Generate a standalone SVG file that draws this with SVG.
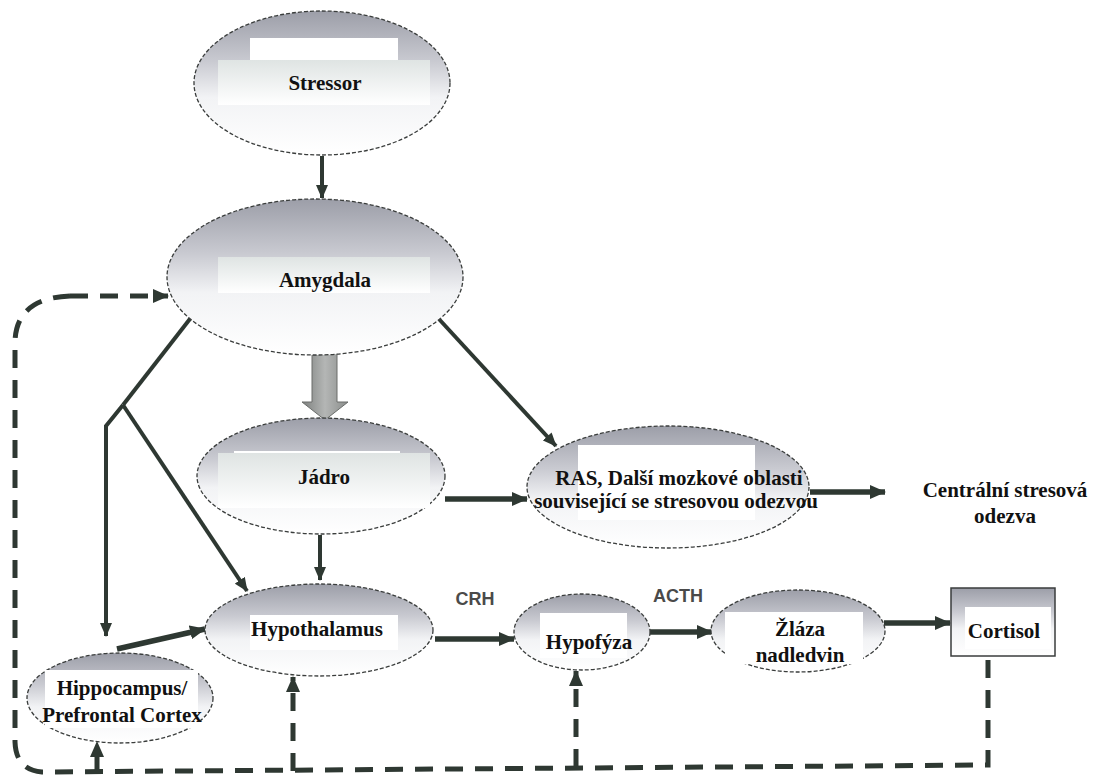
<svg xmlns="http://www.w3.org/2000/svg" width="1093" height="784" viewBox="0 0 1093 784">
  <defs>
    <linearGradient id="nodeFill" x1="0" y1="0" x2="0" y2="1">
      <stop offset="0" stop-color="#9c9ea8"/>
      <stop offset="0.35" stop-color="#c9cad1"/>
      <stop offset="0.6" stop-color="#f2f3f5"/>
      <stop offset="1" stop-color="#ffffff"/>
    </linearGradient>
    <linearGradient id="labelFill" x1="0" y1="0" x2="0" y2="1">
      <stop offset="0" stop-color="#dfe4e3"/>
      <stop offset="1" stop-color="#ffffff"/>
    </linearGradient>
    <linearGradient id="blockFill" x1="0" y1="0" x2="1" y2="0">
      <stop offset="0" stop-color="#7d807e"/>
      <stop offset="0.5" stop-color="#b4b6b5"/>
      <stop offset="1" stop-color="#8a8d8b"/>
    </linearGradient>
    <marker id="head" viewBox="0 0 14 12" refX="13" refY="6" markerWidth="14" markerHeight="12" markerUnits="userSpaceOnUse" orient="auto">
      <path d="M0,0 L14,6 L0,12 Z" fill="#2e3832"/>
    </marker>
    <marker id="headBig" viewBox="0 0 16 14" refX="15" refY="7" markerWidth="16" markerHeight="14" markerUnits="userSpaceOnUse" orient="auto">
      <path d="M0,0 L16,7 L0,14 Z" fill="#2e3832"/>
    </marker>
  </defs>
  <style>
    .node { fill: url(#nodeFill); stroke: #3a3d3c; stroke-width: 1.3; stroke-dasharray: 4 2; }
    .box { fill: url(#nodeFill); stroke: #3a3d3c; stroke-width: 1.5; }
    .lbl { fill: url(#labelFill); }
    .white { fill: #ffffff; }
    .t { font-family: "Liberation Serif", "Times New Roman", serif; font-weight: bold; font-size: 21px; fill: #111111; text-anchor: middle; }
    .h { font-family: "Liberation Sans", Arial, sans-serif; font-weight: bold; font-size: 18px; fill: #4a4a4a; text-anchor: middle; }
    .ln { fill: none; stroke: #2e3832; stroke-width: 4; marker-end: url(#head); }
    .thick { fill: none; stroke: #2e3832; stroke-width: 5.5; marker-end: url(#headBig); }
    .plain { fill: none; stroke: #2e3832; stroke-width: 4; stroke-linejoin: round; }
    .dash { fill: none; stroke: #2e3832; stroke-width: 5; stroke-dasharray: 18 12; }
    .dashArrow { fill: none; stroke: #2e3832; stroke-width: 5; stroke-dasharray: 18 12; marker-end: url(#headBig); }
  </style>

  <rect width="1093" height="784" fill="#ffffff"/>

  <!-- connectors -->
  <g id="connectors">
    <!-- stressor to amygdala -->
    <path class="ln" d="M322,156 V198"/>
    <!-- amygdala to nucleus: block arrow -->
    <path d="M312,351 H337 V402 H348 L325,420 L302,402 H312 Z" fill="url(#blockFill)" stroke="#6a6d6b" stroke-width="1"/>
    <!-- amygdala to RAS -->
    <path class="ln" d="M438,318 L556,446"/>
    <!-- amygdala to left branch -->
    <path class="plain" d="M193,315 L123,405"/>
    <path class="ln" d="M123,405 L106,426 V636"/>
    <path class="ln" d="M123,405 L247,591"/>
    <!-- nucleus to hypothalamus -->
    <path class="ln" d="M320,535 V580"/>
    <!-- nucleus to RAS -->
    <path class="thick" d="M445,499 H527"/>
    <!-- RAS to central response -->
    <path class="thick" d="M810,492 H885"/>
    <!-- hippocampus to hypothalamus -->
    <path class="thick" d="M117,649 L205,629"/>
    <!-- HPA axis -->
    <path class="thick" d="M435,639 H514"/>
    <path class="thick" d="M650,632 H712"/>
    <path class="thick" d="M884,623 H950"/>
    <!-- cortisol feedback loop -->
    <path class="dash" d="M988,660 V765 L42,772 Q16,770 15,742 V342 Q16,298 70,296"/>
    <path class="dashArrow" d="M70,296 H168"/>
    <path class="dashArrow" d="M97,772 V742"/>
    <path class="dashArrow" d="M293,771 V677"/>
    <path class="dashArrow" d="M576,767 V671"/>
  </g>

  <g id="stressor">
    <ellipse class="node" cx="322" cy="83" rx="128" ry="72"/>
    <rect class="white" x="250" y="38" width="148" height="22"/>
    <rect class="lbl" x="218" y="60" width="212" height="45"/>
    <text class="t" x="325" y="90">Stressor</text>
  </g>

  <g id="amygdala">
    <ellipse class="node" cx="315" cy="277" rx="148" ry="78"/>
    <rect class="lbl" x="218" y="257" width="212" height="36"/>
    <text class="t" x="325" y="287">Amygdala</text>
  </g>

  <g id="jadro">
    <ellipse class="node" cx="321" cy="476" rx="124" ry="58"/>
    <rect class="white" x="234" y="451" width="166" height="2"/>
    <rect class="lbl" x="218" y="453" width="212" height="55"/>
    <text class="t" x="324" y="484">Jádro</text>
  </g>

  <g id="ras">
    <ellipse class="node" cx="668" cy="487" rx="141" ry="61"/>
    <rect class="white" x="578" y="445" width="177" height="75"/>
    <text class="t" x="679" y="485">RAS, Další mozkové oblasti</text>
    <text class="t" x="676" y="508">související se stresovou odezvou</text>
  </g>

  <g id="central">
    <text class="t" x="1005" y="497">Centrální stresová</text>
    <text class="t" x="1005" y="523">odezva</text>
  </g>

  <g id="hypothalamus">
    <ellipse class="node" cx="319" cy="630" rx="114" ry="46"/>
    <rect class="white" x="250" y="615" width="148" height="35"/>
    <text class="t" x="317" y="636">Hypothalamus</text>
  </g>

  <g id="hippocampus">
    <ellipse class="node" cx="120" cy="698" rx="93" ry="45"/>
    <rect class="white" x="45" y="670" width="153" height="58"/>
    <text class="t" x="122" y="695">Hippocampus/</text>
    <text class="t" x="122" y="722">Prefrontal Cortex</text>
  </g>

  <g id="hypofyza">
    <ellipse class="node" cx="582" cy="632" rx="68" ry="38"/>
    <rect class="white" x="540" y="613" width="87" height="45"/>
    <text class="t" x="589" y="649">Hypofýza</text>
  </g>

  <g id="zlaza">
    <ellipse class="node" cx="798" cy="631" rx="87" ry="41"/>
    <rect class="white" x="725" y="612" width="138" height="52"/>
    <text class="t" x="800" y="636">Žláza</text>
    <text class="t" x="800" y="662">nadledvin</text>
  </g>

  <g id="cortisol">
    <rect class="box" x="951" y="588" width="104" height="68"/>
    <rect class="white" x="965" y="607" width="86" height="42"/>
    <text class="t" x="1004" y="638">Cortisol</text>
  </g>

  <g id="labels">
    <text class="h" x="475" y="605">CRH</text>
    <text class="h" x="678" y="602">ACTH</text>
  </g>
</svg>
